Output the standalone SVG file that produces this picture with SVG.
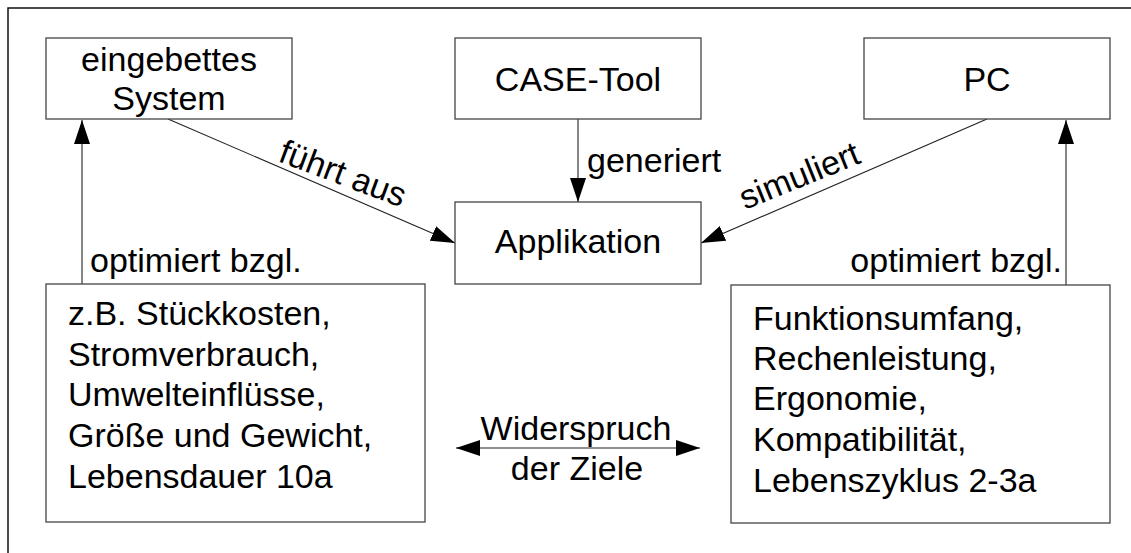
<svg xmlns="http://www.w3.org/2000/svg" width="1131" height="553" viewBox="0 0 1131 553">
  <style>
    text { font-family: "Liberation Sans", Arial, sans-serif; font-size: 34px; fill: #000; }
    .box { fill: #fff; stroke: #444; stroke-width: 1.3; }
    .frame { fill: none; stroke: #111; stroke-width: 1.5; }
    .conn { fill: none; stroke: #222; stroke-width: 1.1; }
    .mid { text-anchor: middle; }
    .end { text-anchor: end; }
  </style>
  <defs>
    <marker id="arrow" markerUnits="userSpaceOnUse" markerWidth="24" markerHeight="16" refX="24" refY="8" orient="auto-start-reverse">
      <path d="M0,0 L24,8 L0,16 z" fill="#000"/>
    </marker>
  </defs>

  <rect width="1131" height="553" fill="#fff"/>
  <!-- outer frame -->
  <rect class="frame" x="8" y="8" width="1140" height="560"/>

  <g id="connectors">
    <line class="conn" x1="82" y1="284" x2="82" y2="120" marker-end="url(#arrow)"/>
    <line class="conn" x1="168" y1="119" x2="455" y2="243" marker-end="url(#arrow)"/>
    <line class="conn" x1="578" y1="119" x2="578" y2="202" marker-end="url(#arrow)"/>
    <line class="conn" x1="987" y1="119" x2="701" y2="243" marker-end="url(#arrow)"/>
    <line class="conn" x1="1066" y1="285" x2="1066" y2="120" marker-end="url(#arrow)"/>
    <line class="conn" x1="456" y1="448" x2="700" y2="448" marker-start="url(#arrow)" marker-end="url(#arrow)"/>

    <text x="90" y="272">optimiert bzgl.</text>
    <text class="end" x="1062" y="272">optimiert bzgl.</text>
    <text x="277" y="161" transform="rotate(20.5 277 161)">führt aus</text>
    <text x="587" y="172">generiert</text>
    <text x="745" y="210" transform="rotate(-22 745 210)">simuliert</text>
    <text class="mid" x="576" y="440">Widerspruch</text>
    <text class="mid" x="577" y="480">der Ziele</text>
  </g>

  <g id="embedded-system">
    <rect class="box" x="46" y="38" width="246" height="81"/>
    <text class="mid" x="169" y="71">eingebettes</text>
    <text class="mid" x="169" y="110">System</text>
  </g>

  <g id="case-tool">
    <rect class="box" x="455" y="38" width="246" height="81"/>
    <text class="mid" x="578" y="91">CASE-Tool</text>
  </g>

  <g id="pc">
    <rect class="box" x="864" y="38" width="246" height="81"/>
    <text class="mid" x="987" y="91">PC</text>
  </g>

  <g id="application">
    <rect class="box" x="455" y="202" width="246" height="82"/>
    <text class="mid" x="578" y="253">Applikation</text>
  </g>

  <g id="embedded-goals">
    <rect class="box" x="46" y="284" width="379" height="238"/>
    <text x="68" y="325">z.B. Stückkosten,</text>
    <text x="68" y="366">Stromverbrauch,</text>
    <text x="68" y="406">Umwelteinflüsse,</text>
    <text x="68" y="447">Größe und Gewicht,</text>
    <text x="68" y="488">Lebensdauer 10a</text>
  </g>

  <g id="pc-goals">
    <rect class="box" x="731" y="285" width="379" height="238"/>
    <text x="753" y="330">Funktionsumfang,</text>
    <text x="753" y="370">Rechenleistung,</text>
    <text x="753" y="410">Ergonomie,</text>
    <text x="753" y="451">Kompatibilität,</text>
    <text x="753" y="492">Lebenszyklus 2-3a</text>
  </g>
</svg>
